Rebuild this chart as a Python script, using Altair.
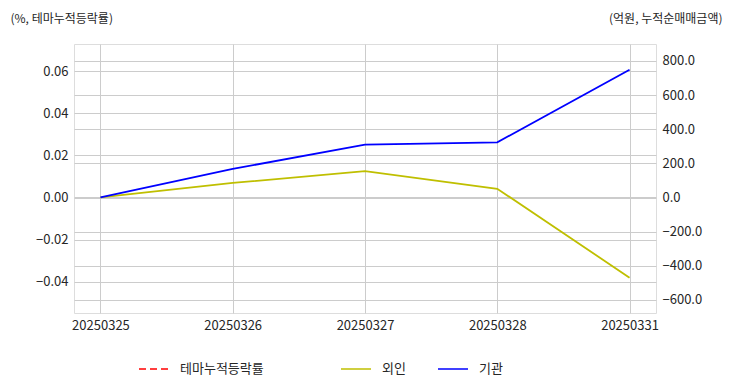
import altair as alt
import pandas as pd

dates = ["20250325", "20250326", "20250327", "20250328", "20250331"]
theme = [None, None, None, None, None]
foreign = [0.0, 85.0, 154.0, 51.0, -470.0]
inst = [0.0, 167.0, 310.0, 323.0, 748.0]

left_ticks = [-0.04, -0.02, 0.0, 0.02, 0.04, 0.06]
right_ticks = [-600, -400, -200, 0, 200, 400, 600, 800]

FONT = "Noto Sans CJK KR"
TXT = "#262626"
GRID = "#cccccc"

df_theme = pd.DataFrame({"date": dates, "val": theme, "series": "테마누적등락률"})
df_right = pd.concat([
    pd.DataFrame({"date": dates, "val": foreign, "series": "외인"}),
    pd.DataFrame({"date": dates, "val": inst, "series": "기관"}),
])

xenc = alt.X("date:N", sort=dates, scale=alt.Scale(type="point", padding=0.2),
             axis=alt.Axis(title=None, labelAngle=0, grid=True, gridColor=GRID,
                           ticks=False, domain=False, labelPadding=6,
                           labelFont=FONT, labelFontSize=13, labelColor=TXT))

left = alt.Chart(df_theme).mark_line(strokeWidth=1.5, strokeDash=[7, 4]).encode(
    x=xenc,
    y=alt.Y("val:Q", scale=alt.Scale(domain=[-0.0547, 0.0728], nice=False, zero=False),
            axis=alt.Axis(orient="left", values=left_ticks, format=".2f",
                          title="(%, 테마누적등락률)", titleAngle=0, titleX=-64, titleY=-26,
                          titleAlign="left", titleBaseline="middle", titleFont=FONT,
                          titleFontSize=12, titleFontWeight="normal", titleColor=TXT,
                          grid=True, gridColor=GRID, ticks=False, domain=False,
                          labelPadding=6, labelFont=FONT, labelFontSize=13, labelColor=TXT)),
    color=alt.Color("series:N", scale=alt.Scale(domain=["테마누적등락률"], range=["#ff0000"]),
                    legend=alt.Legend(title=None, orient="none", legendX=64, legendY=309,
                                      direction="horizontal", symbolType="stroke",
                                      symbolSize=900, symbolStrokeWidth=1.5,
                                      symbolDash=[7, 4], labelOffset=10,
                                      labelFont=FONT, labelFontSize=13, labelColor=TXT)),
)

right = alt.Chart(df_right).mark_line(strokeWidth=1.8).encode(
    x=xenc,
    y=alt.Y("val:Q", scale=alt.Scale(domain=[-677, 899], nice=False, zero=False),
            axis=alt.Axis(orient="right", values=right_ticks, format=".1f",
                          title="(억원, 누적순매매금액)", titleAngle=0, titleX=66, titleY=-26,
                          titleAlign="right", titleBaseline="middle", titleFont=FONT,
                          titleFontSize=12, titleFontWeight="normal", titleColor=TXT,
                          grid=True, gridColor=GRID, ticks=False, domain=False,
                          labelPadding=6, labelFont=FONT, labelFontSize=13, labelColor=TXT)),
    color=alt.Color("series:N", scale=alt.Scale(domain=["외인", "기관"], range=["#bfbf00", "#0000ff"]),
                    legend=alt.Legend(title=None, orient="none", legendX=266, legendY=309,
                                      direction="horizontal", symbolType="stroke",
                                      symbolSize=900, symbolStrokeWidth=1.5,
                                      labelOffset=10, columnPadding=29,
                                      labelFont=FONT, labelFontSize=13, labelColor=TXT)),
)

chart = alt.layer(left, right).resolve_scale(y="independent", color="independent").properties(
    width=582, height=269,
    autosize=alt.AutoSizeParams(type="none"),
    padding={"left": 66, "top": 36, "right": 68, "bottom": 70},
).configure_view(stroke=GRID, strokeWidth=1.5).configure(background="white")

chart.save("out.html", embed_options={"renderer": "svg", "actions": False})
